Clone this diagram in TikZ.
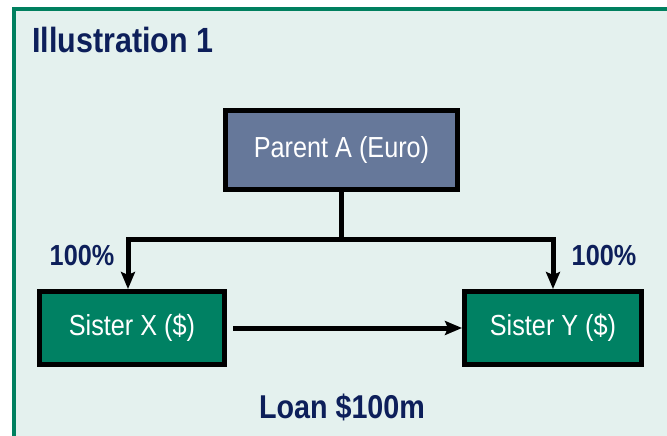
\documentclass[tikz,border=0pt]{standalone}
\usepackage{fontspec}
\newfontfamily\diagfont[FakeStretch=0.87]{Liberation Sans}
\usetikzlibrary{arrows.meta, positioning}
\usepackage{xcolor}
\definecolor{framegreen}{HTML}{00805F}
\definecolor{panelbg}{HTML}{E4F1EE}
\definecolor{parentblue}{HTML}{66789A}
\definecolor{sistergreen}{HTML}{008163}
\definecolor{navytext}{HTML}{0D1F5A}
\tikzset{
	entity/.style={draw, line width=5pt, text=white, inner sep=0pt,
		font=\diagfont\fontsize{29}{32}\selectfont},
	parentbox/.style={entity, fill=parentblue, minimum width=232pt, minimum height=79pt},
	sisterbox/.style={entity, fill=sistergreen, minimum height=73pt},
	link/.style={line width=5pt, line join=miter},
	tip/.tip={Stealth[length=17pt, width=14pt, inset=3pt]},
	arrow/.style={link, -tip},
	fork/.style={link, tip-tip},
	pct/.style={text=navytext, inner sep=0pt, font=\diagfont\bfseries\fontsize{29}{32}\selectfont},
	heading/.style={text=navytext, inner sep=0pt, font=\diagfont\bfseries\fontsize{35}{40}\selectfont}}

\begin{document}
\begin{tikzpicture}[x=1pt, y=-1pt]
		\clip (0,0) rectangle (667,436);
		% panel
		\fill[panelbg] (14,9) rectangle (700,470);
		\draw[framegreen, line width=4.5pt] (14,470) -- (14,9) -- (700,9);
		
		\node[heading, anchor=west] (title) at (32,40) {Illustration 1};
		
		\node[parentbox] (pa) at (341.5,150) {Parent A (Euro)};
		\node[sisterbox, minimum width=185pt] (sx) at (132,328) {Sister X (\$)};
		\node[sisterbox, minimum width=177pt] (sy) at (553,328) {Sister Y (\$)};
		
		\coordinate (jl) at (128,239);
		\coordinate (jr) at (553,239);
		
		\draw[link] (pa.south) -- (pa.south |- jl);
		\draw[fork] (jl |- sx.north) -- (jl) -- (jr) -- (jr |- sy.north);
		\draw[arrow] ([xshift=6pt]sx.east) -- (sy.west);
		
		\node[pct] (px) at (82,256) {100\%};
		\node[pct] (py) at (604,256) {100\%};
		\node[pct, font=\diagfont\bfseries\fontsize{33}{36}\selectfont, anchor=base] (loan) at (342,418) {Loan \$100m};
	\end{tikzpicture}
\end{document}
